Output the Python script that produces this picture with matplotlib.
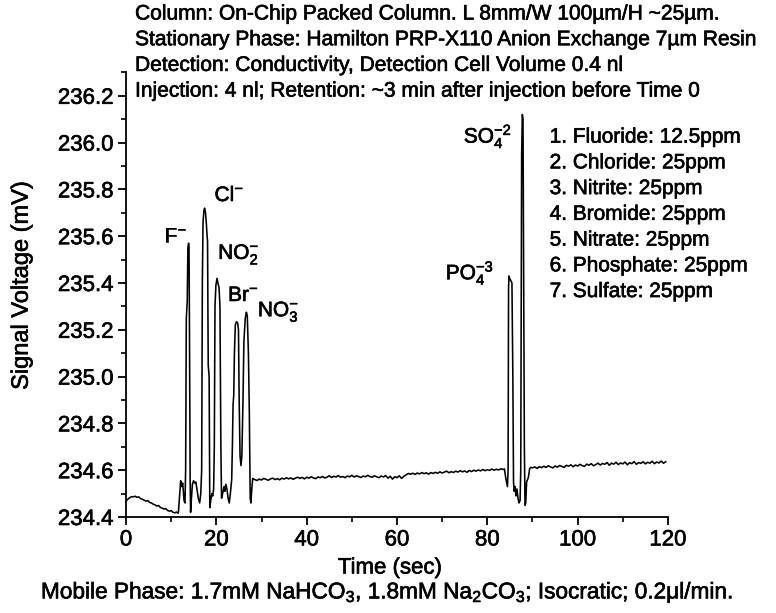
import numpy as np
import matplotlib
matplotlib.use("Agg")
import matplotlib.pyplot as plt
import matplotlib.patheffects as pe
from matplotlib.ticker import MultipleLocator, FormatStrFormatter

plt.rcParams['font.family'] = ['Liberation Sans', 'DejaVu Sans']
plt.rcParams['mathtext.fontset'] = 'custom'
plt.rcParams['mathtext.rm'] = 'Liberation Sans'
plt.rcParams['mathtext.it'] = 'Liberation Sans'
plt.rcParams['mathtext.bf'] = 'Liberation Sans:bold'

FS = 15
heavy = [pe.withStroke(linewidth=0.45, foreground='black')]

# ---- chromatogram samples: time (s) and signal (mV) ----
# baseline before the first anion elutes
t_early = [0.0, 0.4, 0.8, 1.2, 1.6, 2.0, 2.4, 2.8, 3.2, 3.6, 4.0, 4.4, 4.8, 5.2, 5.6,
           6.0, 6.4, 6.8, 7.2, 7.6, 8.0, 8.4, 8.8, 9.2, 9.6, 10.0, 10.4, 10.8, 11.2, 11.5]
v_early = [234.468, 234.476, 234.482, 234.487, 234.486, 234.489, 234.484, 234.486,
           234.479, 234.476, 234.472, 234.468, 234.470, 234.463, 234.460, 234.455,
           234.452, 234.447, 234.449, 234.441, 234.438, 234.434, 234.436, 234.428,
           234.425, 234.427, 234.420, 234.418, 234.421, 234.416]

# F-, Cl-, NO2-, Br-, NO3- cluster
t_cluster = [11.6, 11.9, 12.1, 12.3, 12.55, 12.85, 13.05,
             13.2, 13.35, 13.55, 13.7, 13.85, 13.95, 14.05, 14.2, 14.3, 14.45,
             14.7, 14.95, 15.2, 15.45, 15.7, 16.0, 16.3, 16.55,
             16.75, 16.9, 17.05, 17.25, 17.4, 17.6, 17.8, 17.95, 18.05, 18.2, 18.4, 18.55,
             18.75, 19.0, 19.2, 19.4,
             19.55, 19.7, 19.9, 20.15, 20.35, 20.6, 20.8, 21.0, 21.15, 21.4,
             21.7, 21.9, 22.1, 22.35, 22.6, 22.85, 23.1,
             23.4, 23.55, 23.7, 23.85, 24.0, 24.2, 24.45, 24.7, 24.9, 25.05, 25.25, 25.45, 25.65,
             25.9, 26.1, 26.4, 26.65, 26.85, 27.1, 27.3, 27.5, 27.65, 27.85, 28.05]
v_cluster = [234.420, 234.500, 234.555, 234.530, 234.545, 234.470, 234.460,
             234.600, 235.250, 235.320, 235.550, 235.570, 235.555, 235.200, 234.550, 234.420, 234.470,
             234.540, 234.555, 234.545, 234.550, 234.520, 234.480, 234.460, 234.500,
             234.600, 235.400, 235.660, 235.710, 235.720, 235.700, 235.650, 235.600, 235.580, 235.050, 235.000, 234.440,
             234.470, 234.500, 234.490, 234.520,
             234.700, 235.300, 235.390, 235.420, 235.400, 235.380, 235.300, 234.700, 234.480, 234.500,
             234.530, 234.510, 234.540, 234.520, 234.480, 234.460, 234.500,
             234.560, 234.700, 234.880, 234.920, 235.100, 235.220, 235.235, 235.230, 235.200, 234.900, 234.660, 234.620, 234.660,
             234.900, 235.150, 235.250, 235.275, 235.260, 235.100, 234.850, 234.480, 234.460, 234.520, 234.565]

# baseline between the two groups, sampled every 0.5 s from 28.5 s
mid_start, mid_step = 28.5, 0.5
v_mid = [234.560, 234.556, 234.562, 234.558, 234.565, 234.561, 234.557, 234.563, 234.566, 234.560,
         234.564, 234.559, 234.566, 234.562, 234.568, 234.563, 234.567, 234.561, 234.566, 234.570,
         234.565, 234.569, 234.563, 234.570, 234.566, 234.572, 234.567, 234.564, 234.571, 234.568,
         234.573, 234.567, 234.570, 234.576, 234.569, 234.574, 234.571, 234.577, 234.570, 234.573,
         234.568, 234.575, 234.572, 234.578, 234.571, 234.576, 234.573, 234.569, 234.575, 234.572,
         234.578, 234.573, 234.570, 234.576, 234.572, 234.568, 234.575, 234.571, 234.577, 234.566,
         234.574, 234.562, 234.572, 234.568, 234.576, 234.565, 234.574, 234.580, 234.586, 234.583,
         234.587, 234.582, 234.588, 234.584, 234.590, 234.585, 234.589, 234.583, 234.590, 234.586,
         234.591, 234.587, 234.593, 234.588, 234.592, 234.596, 234.589, 234.594, 234.590, 234.596,
         234.592, 234.598, 234.593, 234.597, 234.591, 234.599, 234.594, 234.600, 234.596, 234.601,
         234.597, 234.603, 234.598, 234.602, 234.599, 234.605, 234.600, 234.604, 234.601, 234.606,
         234.603]

# PO4-3 and SO4-2 peaks
t_late_peaks = [83.8, 84.05, 84.3, 84.45, 84.6, 84.7, 84.8, 84.95, 85.2, 85.45, 85.65, 85.8,
                85.95, 86.15, 86.35, 86.55, 86.8, 87.0, 87.25, 87.4, 87.5, 87.6, 87.75, 87.9,
                88.05, 88.2, 88.35, 88.5, 88.7, 88.9, 89.1, 89.35, 89.6]
v_late_peaks = [234.605, 234.570, 234.545, 234.530, 234.600, 235.380, 235.430, 235.420, 235.410,
                235.400, 235.000, 234.550, 234.510, 234.530, 234.490, 234.520, 234.480, 234.460,
                234.470, 234.600, 235.300, 235.950, 236.120, 236.100, 235.450, 234.700, 234.450,
                234.460, 234.550, 234.560, 234.570, 234.605, 234.612]

# trailing baseline, sampled every 0.5 s from 90 s
end_start, end_step = 90.0, 0.5
v_end = [234.610, 234.614, 234.608, 234.615, 234.611, 234.617, 234.612, 234.619, 234.614, 234.610,
         234.618, 234.613, 234.620, 234.616, 234.612, 234.621, 234.617, 234.623, 234.615, 234.622,
         234.618, 234.625, 234.620, 234.616, 234.626, 234.621, 234.628, 234.619, 234.624, 234.630,
         234.622, 234.629, 234.625, 234.633, 234.621, 234.630, 234.626, 234.634, 234.624, 234.631,
         234.627, 234.635, 234.623, 234.632, 234.628, 234.637, 234.625, 234.633, 234.629, 234.636,
         234.627, 234.634, 234.630, 234.638, 234.628, 234.635, 234.631, 234.639, 234.630, 234.636]

t_mid = mid_start + mid_step * np.arange(len(v_mid))
t_end = end_start + end_step * np.arange(len(v_end))

time = np.concatenate([t_early, t_cluster, t_mid, t_late_peaks, t_end])
signal = np.concatenate([v_early, v_cluster, v_mid, v_late_peaks, v_end])

# peak labels: (text, time, voltage of the text baseline)
peak_labels = [
    (r'F$^{-}$', 8.4, 235.575),
    (r'Cl$^{-}$', 19.6, 235.75),
    (r'NO$_2^{-}$', 20.4, 235.503),
    (r'Br$^{-}$', 22.6, 235.323),
    (r'NO$_3^{-}$', 29.2, 235.258),
    (r'PO$_4^{-3}$', 70.8, 235.416),
    (r'SO$_4^{-2}$', 74.8, 236.0),
]

legend_lines = ['1. Fluoride: 12.5ppm', '2. Chloride: 25ppm', '3. Nitrite: 25ppm',
                '4. Bromide: 25ppm', '5. Nitrate: 25ppm', '6. Phosphate: 25ppm',
                '7. Sulfate: 25ppm']

header_lines = ['Column: On-Chip Packed Column. L 8mm/W 100\u00b5m/H ~25\u00b5m.',
                'Stationary Phase: Hamilton PRP-X110 Anion Exchange 7\u00b5m Resin',
                'Detection: Conductivity, Detection Cell Volume 0.4 nl',
                'Injection: 4 nl; Retention: ~3 min after injection before Time 0']

fig = plt.figure(figsize=(7.76, 6.13), dpi=100)
ax = fig.add_axes([0.1624, 0.1566, 0.6984, 0.7253])
ax.plot(time, signal, color='black', lw=1.15)

ax.set_xlim(0, 120)
ax.set_ylim(234.4, 236.3)
for s in ('top', 'right'):
    ax.spines[s].set_visible(False)
for s in ('left', 'bottom'):
    ax.spines[s].set_linewidth(1.3)

ax.xaxis.set_major_locator(MultipleLocator(20))
ax.xaxis.set_minor_locator(MultipleLocator(10))
ax.yaxis.set_major_locator(MultipleLocator(0.2))
ax.yaxis.set_minor_locator(MultipleLocator(0.1))
ax.yaxis.set_major_formatter(FormatStrFormatter('%.1f'))
ax.tick_params(which='major', direction='out', length=6, width=1.3, labelsize=16, pad=3)
ax.tick_params(which='minor', direction='out', length=3.5, width=1.2)

for txt, tx, vy in peak_labels:
    ax.text(tx, vy, txt, fontsize=FS, ha='left', va='baseline', path_effects=heavy)

for i, line in enumerate(legend_lines):
    ax.text(93.8, 236.0 - 0.11 * i, line, fontsize=FS, ha='left', va='baseline',
            path_effects=heavy)

for i, line in enumerate(header_lines):
    fig.text(0.174, 1 - (14 + 25.7 * i) / 613, line, fontsize=15.1, ha='left', va='center',
             path_effects=heavy)

fig.text(0.028, 1 - 285 / 613, 'Signal Voltage (mV)', rotation=90, fontsize=17,
         ha='center', va='center', path_effects=heavy)
fig.text(390 / 776, 1 - 568 / 613, 'Time (sec)', fontsize=16, ha='center', va='center',
         path_effects=heavy)
fig.text(387 / 776, 1 - 592 / 613,
         r'Mobile Phase: 1.7mM NaHCO$_3$, 1.8mM Na$_2$CO$_3$; Isocratic; 0.2$\mathregular{\mu}$l/min.',
         fontsize=16.3, ha='center', va='center', path_effects=heavy)

fig.canvas.draw()
for lbl in ax.get_xticklabels() + ax.get_yticklabels():
    lbl.set_path_effects(heavy)

fig.savefig('out.png', dpi=100)
